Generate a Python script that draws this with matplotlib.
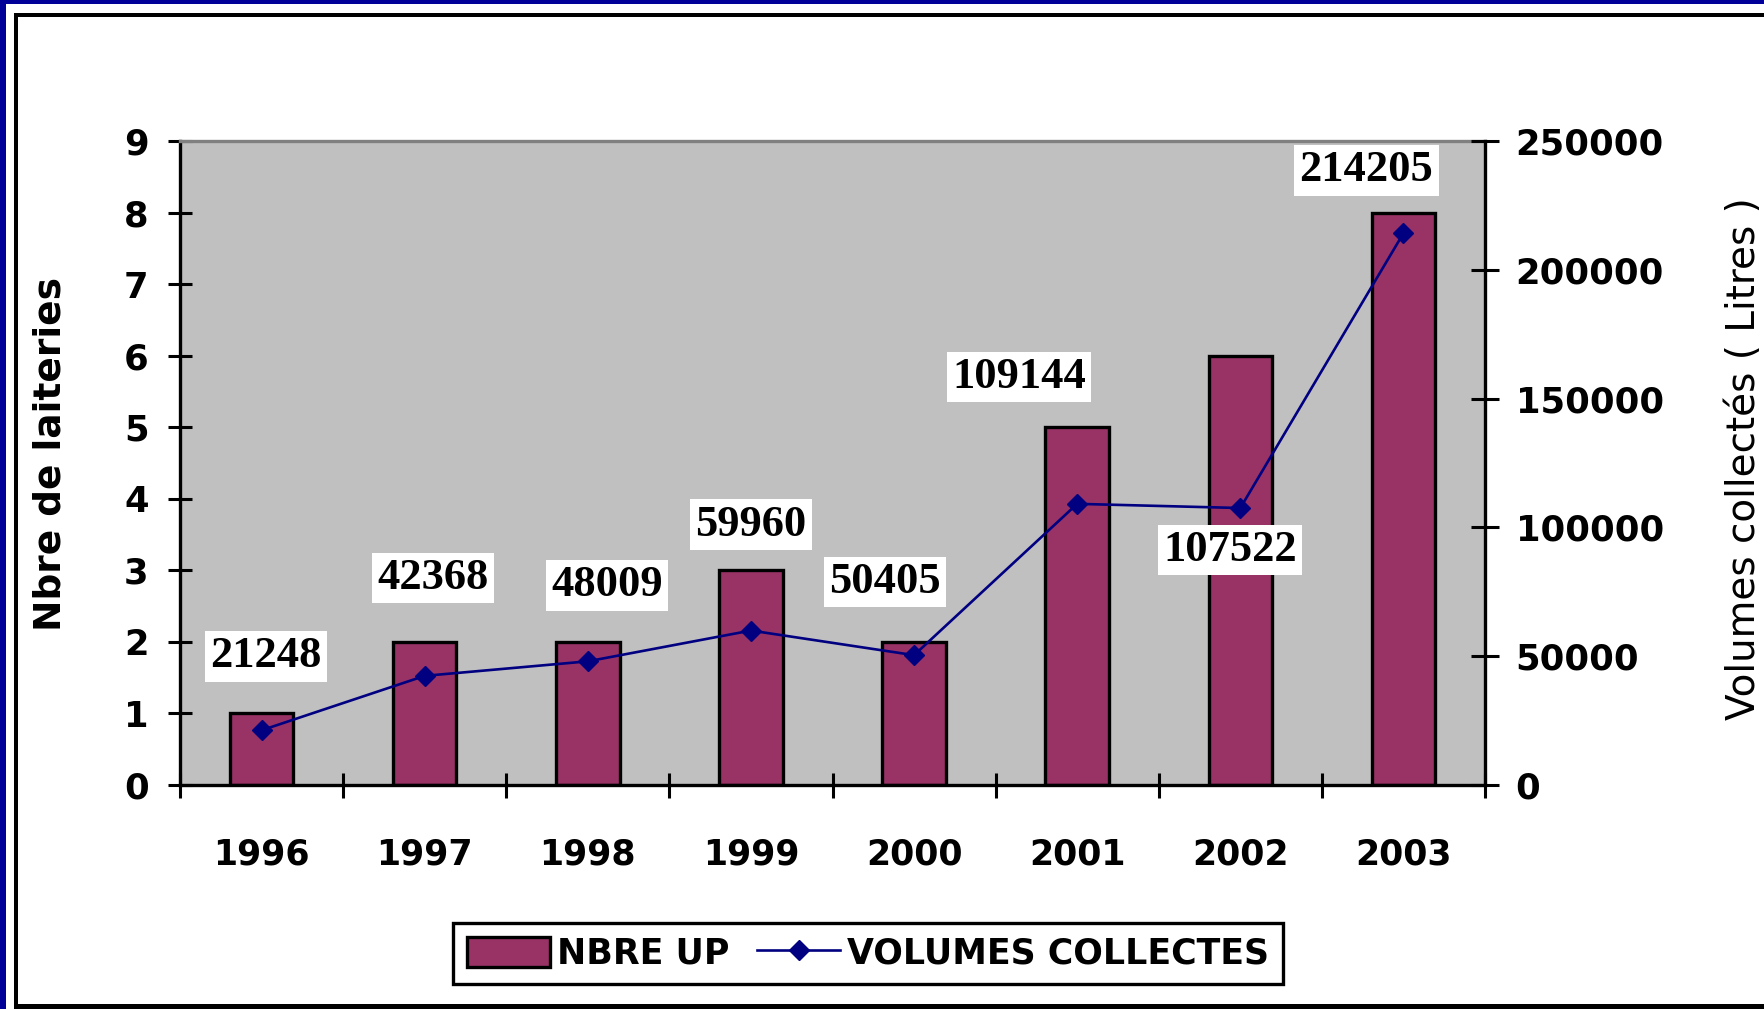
import matplotlib
matplotlib.use("Agg")
import matplotlib.pyplot as plt
from matplotlib.patches import Rectangle
from matplotlib.font_manager import FontProperties
import numpy as np

# ---- data ----
years = ["1996", "1997", "1998", "1999", "2000", "2001", "2002", "2003"]
nbre_up = [1, 2, 2, 3, 2, 5, 6, 8]
volumes = [21248, 42368, 48009, 59960, 50405, 109144, 107522, 214205]
left_ticks = [0, 1, 2, 3, 4, 5, 6, 7, 8, 9]
right_ticks = [0, 50000, 100000, 150000, 200000, 250000]

# label offsets (pixels) relative to each point
label_dx = [4, 8, 19, 0, -29, -58, -10, -37]
label_dy = [74, 98, 76, 106, 73, 127, -42, 63]

W, H = 1764, 1009
fig = plt.figure(figsize=(W / 100, H / 100), dpi=100, facecolor="white")

# frame decorations
def frect(x0, y0_top, w, h, color):
    fig.add_artist(Rectangle((x0 / W, (H - y0_top - h) / H), w / W, h / H,
                             transform=fig.transFigure, facecolor=color,
                             edgecolor="none", zorder=10))

frect(0, 0, 6, H, "#000099")
frect(0, 0, W, 4, "#000099")
frect(14, 13, W - 14, 4, "black")
frect(14, 13, 4, H - 13, "black")
frect(14, 1004, W - 14, 5, "black")

ax = fig.add_axes([180 / W, (H - 785) / H, (1485 - 180) / W, (785 - 141) / H])
ax.set_facecolor("#C0C0C0")

x = np.arange(len(years))
bars = ax.bar(x, nbre_up, width=0.39, color="#993366", edgecolor="black",
              linewidth=2.4, label="NBRE UP", zorder=2)
ax.set_xlim(-0.5, len(years) - 0.5)
ax.set_ylim(0, 9)
ax.set_yticks(left_ticks)
ax.set_xticks(x)
ax.set_xticklabels(years)
ax.set_xticks(np.arange(-0.5, len(years), 1.0), minor=True)

tick_font = dict(family="DejaVu Sans", weight="bold", size=25.5)
for lab in ax.get_yticklabels():
    lab.set_fontproperties(FontProperties(**tick_font))
for lab in ax.get_xticklabels():
    lab.set_fontproperties(FontProperties(family="DejaVu Sans", weight="bold", size=25))

ax.tick_params(axis="y", direction="inout", length=17, width=2.2, pad=14)
ax.tick_params(axis="x", which="major", length=0, pad=38)
ax.tick_params(axis="x", which="minor", direction="inout", length=18, width=2.2)

for s in ["left", "bottom"]:
    ax.spines[s].set_linewidth(2.4)
    ax.spines[s].set_color("black")
ax.spines["top"].set_color("#808080")
ax.spines["top"].set_linewidth(2.4)
ax.spines["right"].set_visible(False)

ax2 = ax.twinx()
ln, = ax2.plot(x, volumes, color="#000080", linewidth=1.9, marker="D",
               markersize=10, markerfacecolor="#000080", markeredgecolor="#000080",
               label="VOLUMES COLLECTES", zorder=3)
ax2.set_ylim(0, 250000)
ax2.set_yticks(right_ticks)
ax2.set_yticklabels([str(v) for v in right_ticks])
for lab in ax2.get_yticklabels():
    lab.set_fontproperties(FontProperties(**tick_font))
ax2.tick_params(axis="y", direction="inout", length=20, width=2.2, pad=12)
for s in ["left", "top", "bottom"]:
    ax2.spines[s].set_visible(False)
ax2.spines["right"].set_linewidth(2.4)
ax2.spines["right"].set_color("black")

for xi, v, dx, dy in zip(x, volumes, label_dx, label_dy):
    ax2.annotate(str(v), (xi, v), xytext=(dx, dy), textcoords="offset pixels",
                 ha="center", va="center", family="Liberation Serif",
                 weight="bold", size=32, zorder=5,
                 bbox=dict(boxstyle="square,pad=0.12", facecolor="white",
                           edgecolor="none"))

fig.text(51 / W, 1 - 454 / H, "Nbre de laiteries", rotation=90, ha="center",
         va="center", family="DejaVu Sans", weight="bold", size=27)
fig.text(1744 / W, 1 - 459 / H, "Volumes collectés ( Litres )", rotation=90,
         ha="center", va="center", family="DejaVu Sans", size=28)

leg = fig.legend([bars, ln], ["NBRE UP", "VOLUMES COLLECTES"], loc="center",
                 bbox_to_anchor=(868 / W, 1 - 953.5 / H), ncol=2, frameon=True,
                 fancybox=False, edgecolor="black", framealpha=1,
                 prop=dict(family="DejaVu Sans", weight="bold", size=25),
                 handlelength=2.4, handleheight=0.95, handletextpad=0.2,
                 columnspacing=0.8, borderpad=0.4, borderaxespad=0)
leg.get_frame().set_linewidth(2.4)

fig.savefig("out.png", dpi=100, facecolor="white")
